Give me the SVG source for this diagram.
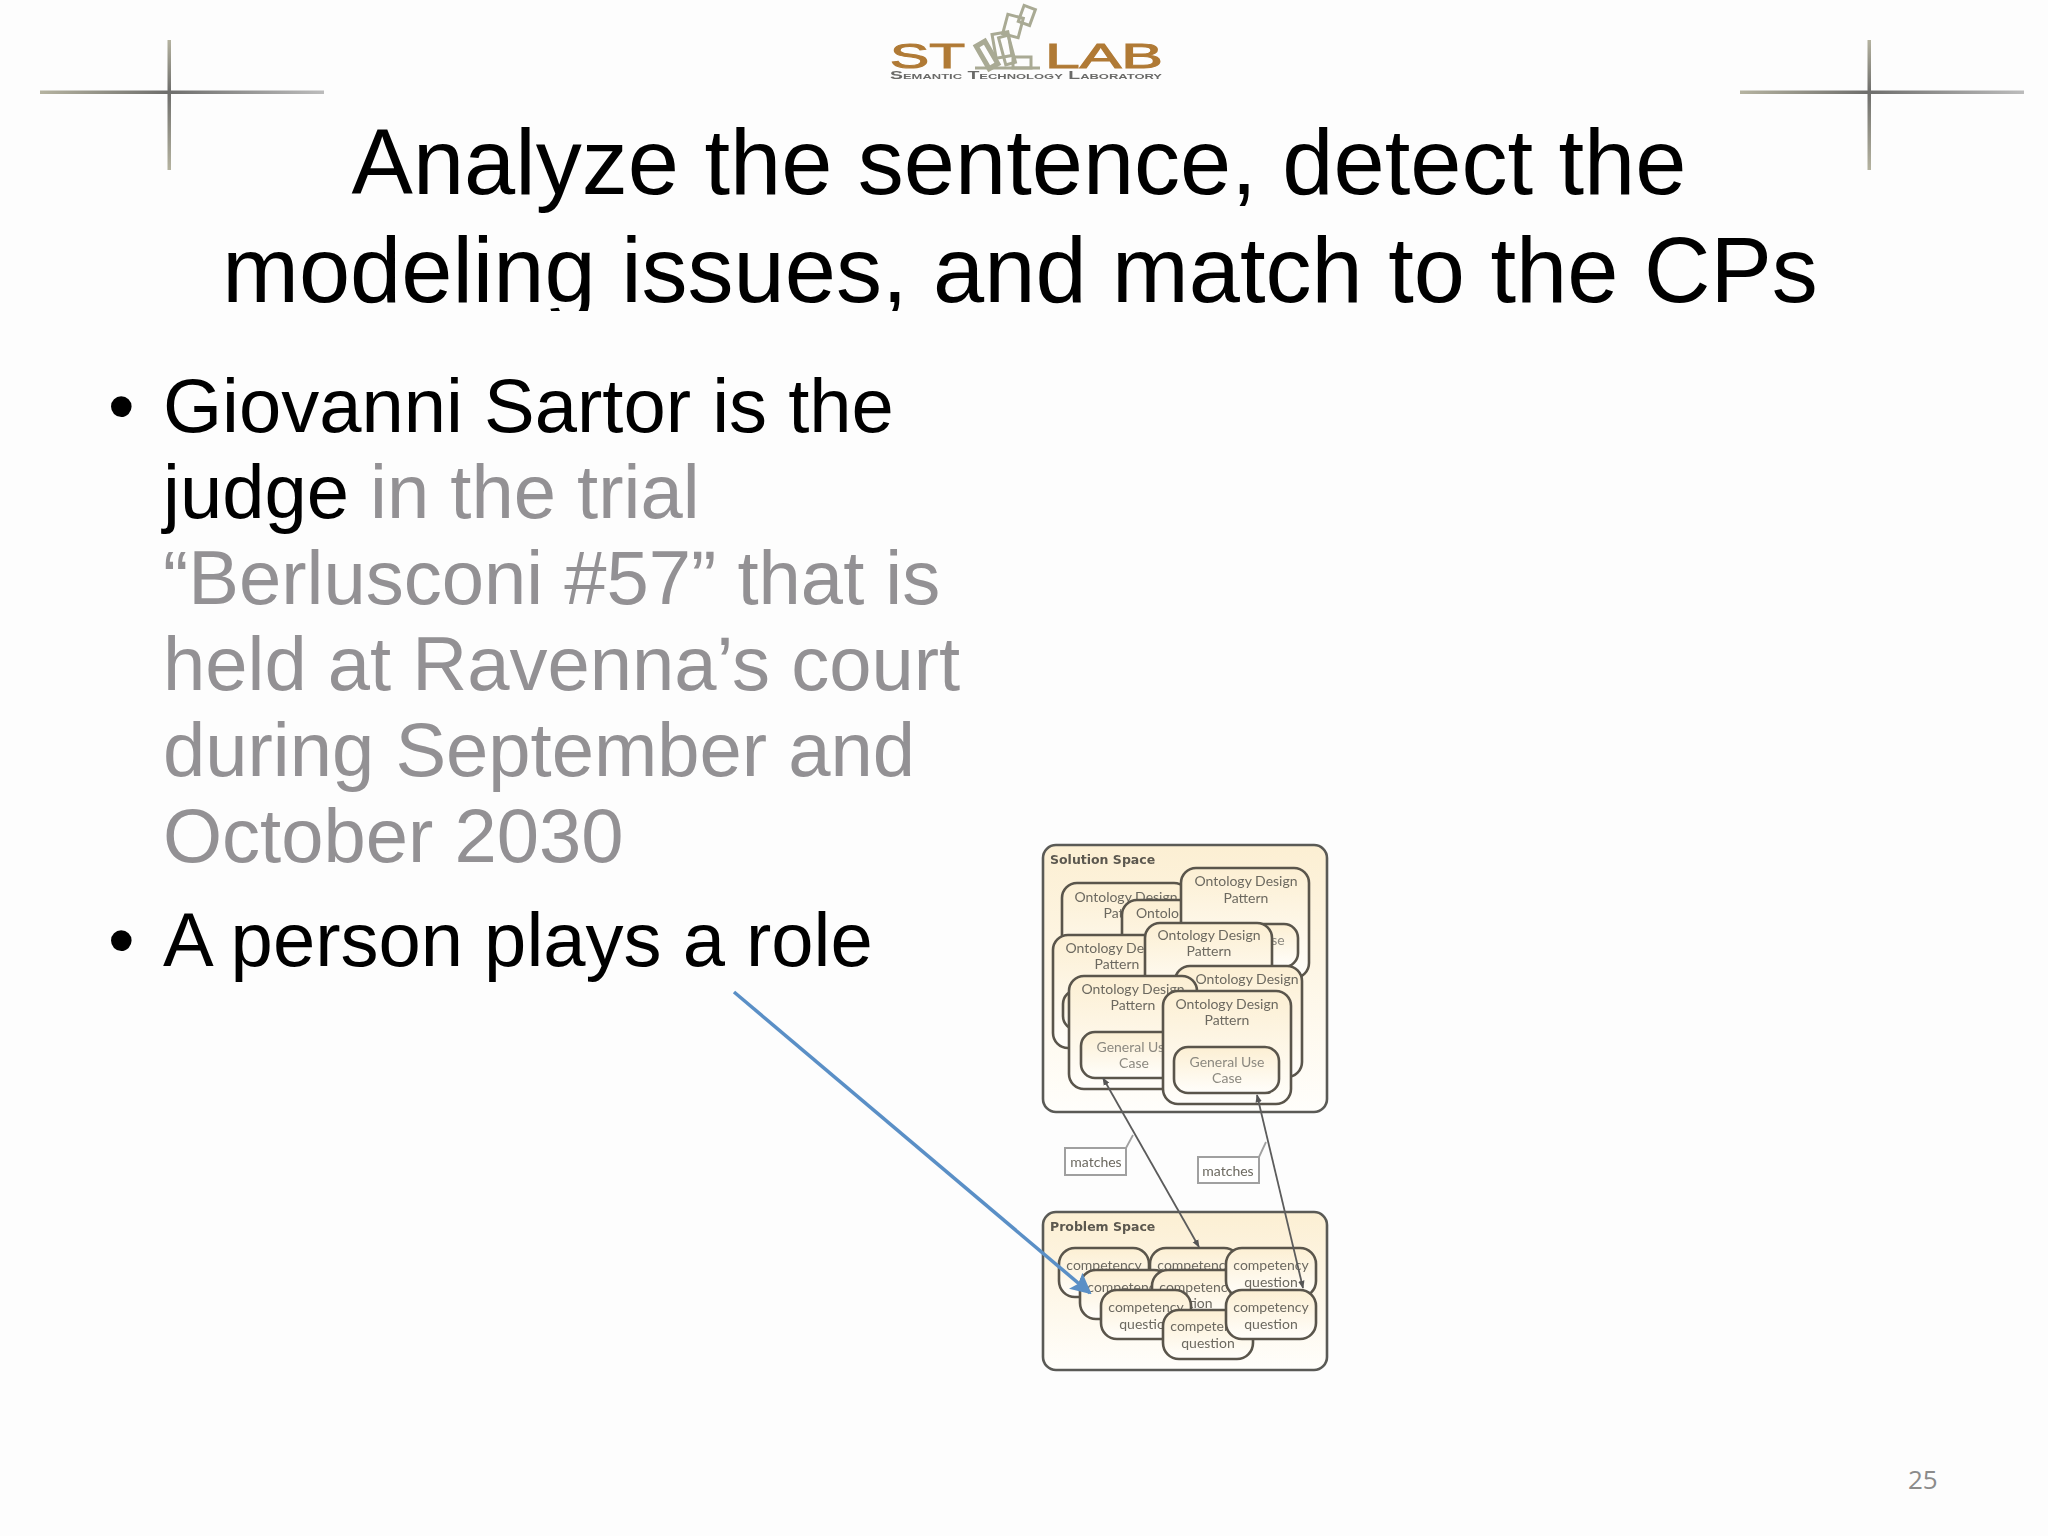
<svg xmlns="http://www.w3.org/2000/svg" width="2048" height="1536" viewBox="0 0 2048 1536">
<defs>
<linearGradient id="pale" x1="0" y1="0" x2="0" y2="1"><stop offset="0" stop-color="#fcefd3"/><stop offset="1" stop-color="#fffefb"/></linearGradient>
<linearGradient id="crossH" x1="0" y1="0" x2="1" y2="0"><stop offset="0" stop-color="#b5b3a0"/><stop offset="0.45" stop-color="#6e6e6c"/><stop offset="1" stop-color="#bcbcbc"/></linearGradient>
<linearGradient id="crossV" x1="0" y1="0" x2="0" y2="1"><stop offset="0" stop-color="#b5b3a0"/><stop offset="0.4" stop-color="#6e6e6c"/><stop offset="1" stop-color="#b5b3a0"/></linearGradient>
<filter id="soft" x="-5%" y="-5%" width="110%" height="110%"><feGaussianBlur stdDeviation="0.65"/></filter>
<clipPath id="titleClip"><rect x="0" y="230" width="2048" height="81"/></clipPath>
<marker id="tip" viewBox="0 0 10 10" refX="9" refY="5" markerWidth="8" markerHeight="8" orient="auto-start-reverse" markerUnits="userSpaceOnUse"><path d="M0,1 L10,5 L0,9 Z" fill="#555"/></marker>
<marker id="blueTip" viewBox="0 0 10 10" refX="9" refY="5" markerWidth="6" markerHeight="6" orient="auto" markerUnits="strokeWidth"><path d="M0,0 L10,5 L0,10 L2,5 Z" fill="#5a8fc6"/></marker>
</defs>
<style>
.title{font-family:"Liberation Sans",Arial,sans-serif;font-size:92px;fill:#000;text-anchor:middle}
.body{font-family:"Liberation Sans",Arial,sans-serif;font-size:76px;fill:#000}
.dim{fill:#939194}
.outer{fill:url(#pale);stroke:#5a5a56;stroke-width:2.6}
.box{fill:url(#pale);stroke:#5a554b;stroke-width:2.6}
.lbl{font-family:Lato,"Liberation Sans",sans-serif;font-size:14px;fill:#6c6960;text-anchor:middle}
.glbl{font-family:Lato,"Liberation Sans",sans-serif;font-size:14px;fill:#8c8980;text-anchor:middle}
.space{font-family:"DejaVu Sans",sans-serif;font-weight:bold;font-size:12.5px;fill:#5c584f}
.tag{fill:#fff;stroke:#a0a0a0;stroke-width:2}
.wire{fill:none;stroke:#5c5c5c;stroke-width:1.8}
.logoT{font-family:"Liberation Sans",sans-serif;font-size:35px;fill:#b07a35;stroke:#b07a35;stroke-width:1}
.logoS{font-family:"Liberation Sans",sans-serif;font-weight:bold;font-size:10.5px;fill:#6a6a68;font-variant:small-caps}
.frame{fill:none;stroke:#a9aa94;stroke-width:3}
</style>
<rect width="2048" height="1536" fill="#fdfdfd"/>

<g id="crossLeft">
<rect x="40" y="90.500" width="284" height="3.500" fill="url(#crossH)"/>
<rect x="167.500" y="40" width="3.500" height="130" fill="url(#crossV)"/>
</g>
<g id="crossRight">
<rect x="1740" y="90.500" width="284" height="3.500" fill="url(#crossH)"/>
<rect x="1867.500" y="40" width="3.500" height="130" fill="url(#crossV)"/>
</g>

<g id="logo" filter="url(#soft)">
<rect x="1021" y="7" width="12" height="17" transform="rotate(20 1027 15)" class="frame"/>
<rect x="1005" y="16" width="16" height="20" transform="rotate(15 1013 26)" class="frame"/>
<rect x="994" y="33" width="16" height="24" transform="rotate(-10 1002 45)" class="frame"/>
<rect x="1002" y="36" width="10" height="28" transform="rotate(-15 1007 50)" class="frame"/>
<rect x="982" y="42" width="10" height="26" transform="rotate(-30 987 55)" class="frame" style="stroke-width:5"/>
<rect x="1013" y="57" width="18" height="11" class="frame"/>
<path d="M975,68 H1040" class="frame"/>
<text x="890" y="68" class="logoT" textLength="75" lengthAdjust="spacingAndGlyphs">ST</text>
<text x="1045" y="68" class="logoT" textLength="118" lengthAdjust="spacingAndGlyphs">LAB</text>
<text x="890" y="79" class="logoS" textLength="272" lengthAdjust="spacingAndGlyphs">Semantic Technology Laboratory</text>
</g>

<g id="title">
<text x="1019" y="194" class="title">Analyze the sentence, detect the</text>
<g clip-path="url(#titleClip)"><text x="1020" y="302" class="title">modeling issues, and match to the CPs</text></g>
</g>

<g id="bullets">
<text x="108" y="432" class="body">•</text>
<text x="163" y="432" class="body">Giovanni Sartor is the</text>
<text x="163" y="518" class="body">judge <tspan class="dim">in the trial</tspan></text>
<text x="163" y="604" class="body dim">“Berlusconi #57” that is</text>
<text x="163" y="690" class="body dim">held at Ravenna’s court</text>
<text x="163" y="776" class="body dim">during September and</text>
<text x="163" y="862" class="body dim">October 2030</text>
<text x="108" y="966" class="body">•</text>
<text x="163" y="966" class="body">A person plays a role</text>
</g>

<g id="figure" filter="url(#soft)">
<g id="solutionSpace">
<rect x="1043" y="845" width="284" height="267" rx="13" class="outer"/>
<text x="1050" y="864" class="space">Solution Space</text>
</g>
<g id="odp1"><rect x="1062" y="883" width="127" height="113" rx="15" class="box"/><text x="1126" y="902" class="lbl">Ontology Design</text><text x="1126" y="918" class="lbl">Pattern</text></g>
<g id="odp2"><rect x="1122" y="900" width="100" height="100" rx="15" class="box"/><text x="1136" y="918" class="lbl" style="text-anchor:start">Ontolo</text></g>
<g id="odp3"><rect x="1181" y="868" width="128" height="110" rx="15" class="box"/><text x="1246" y="886" class="lbl">Ontology Design</text><text x="1246" y="903" class="lbl">Pattern</text><rect x="1220" y="924" width="78" height="43" rx="14" class="box"/><text x="1278" y="945" class="glbl">se</text></g>
<g id="odp4"><rect x="1053" y="935" width="127" height="113" rx="15" class="box"/><rect x="1063" y="990" width="60" height="40" rx="14" class="box"/><text x="1117" y="953" class="lbl">Ontology Design</text><text x="1117" y="969" class="lbl">Pattern</text></g>
<g id="odp5"><rect x="1145" y="923" width="127" height="80" rx="15" class="box"/><text x="1209" y="940" class="lbl">Ontology Design</text><text x="1209" y="956" class="lbl">Pattern</text></g>
<g id="odp6"><rect x="1175" y="966" width="127" height="111" rx="15" class="box"/><text x="1247" y="984" class="lbl">Ontology Design</text></g>
<g id="odp7"><rect x="1069" y="976" width="128" height="113" rx="15" class="box"/><text x="1133" y="994" class="lbl">Ontology Design</text><text x="1133" y="1010" class="lbl">Pattern</text><rect x="1081" y="1032" width="100" height="46" rx="14" class="box"/><text x="1134" y="1052" class="glbl">General Use</text><text x="1134" y="1068" class="glbl">Case</text></g>
<g id="odp8"><rect x="1163" y="991" width="128" height="113" rx="15" class="box"/><text x="1227" y="1009" class="lbl">Ontology Design</text><text x="1227" y="1025" class="lbl">Pattern</text><rect x="1174" y="1047" width="105" height="46" rx="14" class="box"/><text x="1227" y="1067" class="glbl">General Use</text><text x="1227" y="1083" class="glbl">Case</text></g>

<g id="problemSpace">
<rect x="1043" y="1212" width="284" height="158" rx="13" class="outer"/>
<text x="1050" y="1231" class="space">Problem Space</text>
</g>
<g id="cq1"><rect x="1059" y="1248" width="90" height="49" rx="16" class="box"/><text x="1104" y="1270" class="lbl">competency</text></g>
<g id="cq2"><rect x="1150" y="1248" width="90" height="49" rx="16" class="box"/><text x="1195" y="1270" class="lbl">competency</text></g>
<g id="cq3"><rect x="1080" y="1270" width="90" height="49" rx="16" class="box"/><text x="1125" y="1292" class="lbl">competency</text></g>
<g id="cq4"><rect x="1152" y="1270" width="90" height="49" rx="16" class="box"/><text x="1197" y="1292" class="lbl">competency</text><text x="1197" y="1308" class="lbl">ation</text></g>
<g id="cq5"><rect x="1226" y="1248" width="90" height="49" rx="16" class="box"/><text x="1271" y="1270" class="lbl">competency</text><text x="1271" y="1287" class="lbl">question</text></g>
<g id="cq6"><rect x="1101" y="1290" width="90" height="49" rx="16" class="box"/><text x="1146" y="1312" class="lbl">competency</text><text x="1146" y="1329" class="lbl">question</text></g>
<g id="cq7"><rect x="1163" y="1310" width="90" height="49" rx="16" class="box"/><text x="1208" y="1331" class="lbl">competency</text><text x="1208" y="1348" class="lbl">question</text></g>
<g id="cq8"><rect x="1226" y="1290" width="90" height="49" rx="16" class="box"/><text x="1271" y="1312" class="lbl">competency</text><text x="1271" y="1329" class="lbl">question</text></g>

<g id="matches1"><path d="M1126,1148 L1133,1135" class="wire" style="stroke:#a0a0a0"/><rect x="1065" y="1148" width="61" height="27" class="tag"/><text x="1096" y="1167" class="lbl">matches</text></g>
<g id="matches2"><path d="M1259,1157 L1266,1142" class="wire" style="stroke:#a0a0a0"/><rect x="1198" y="1157" width="61" height="26" class="tag"/><text x="1228" y="1176" class="lbl">matches</text></g>

<g id="figureConnectors">
<path d="M1103,1078 L1199,1247" class="wire" marker-start="url(#tip)" marker-end="url(#tip)"/>
<path d="M1257,1095 L1303,1288" class="wire" marker-start="url(#tip)" marker-end="url(#tip)"/>
</g>
</g>

<g id="connectors">
<path d="M734,992 L1090,1293" fill="none" stroke="#5a8fc6" stroke-width="3.500" marker-end="url(#blueTip)"/>
</g>

<g id="pageNumber"><text x="1908" y="1489" font-family="'Open Sans','Liberation Sans',sans-serif" font-size="26" fill="#8b8b8b">25</text></g>
</svg>
